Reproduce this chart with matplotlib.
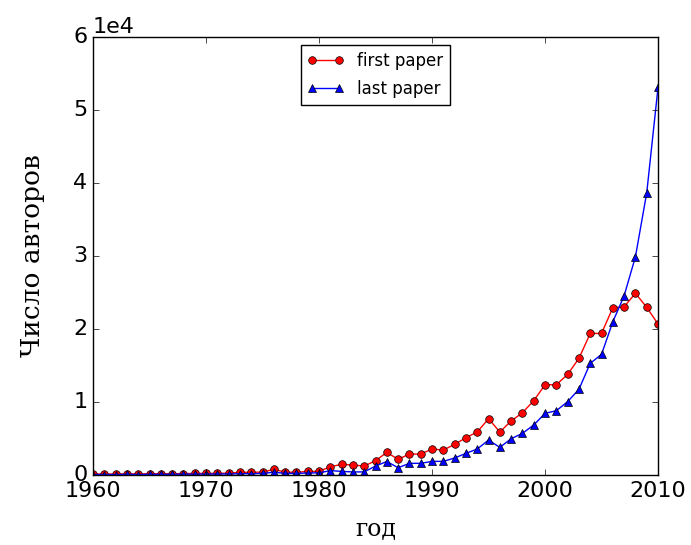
import matplotlib
matplotlib.use("Agg")
import matplotlib.pyplot as plt

# authors per year, by first and last paper
years = list(range(1960, 2011))
first_paper = [120, 140, 130, 160, 150, 170, 180, 170, 200, 210, 230, 220, 260,
               370, 370, 400, 780, 400, 370, 500, 500, 1140, 1460, 1370, 1230, 1960,
               3100, 2150, 2870, 2870, 3560, 3420, 4200, 5110, 5890, 7720, 5890,
               7400, 8540, 10180, 12370, 12370, 13790, 15980, 19400, 19400, 22920,
               23060, 24890, 22970, 20680]
last_paper = [60, 70, 60, 80, 70, 90, 90, 100, 110, 120, 130, 130, 150,
              180, 190, 220, 380, 230, 220, 280, 300, 600, 500, 420, 430, 1230,
              1850, 1000, 1600, 1600, 1870, 1870, 2330, 2970, 3560, 4790, 3790,
              4970, 5710, 6850, 8450, 8810, 10050, 11740, 15300, 16530, 21000,
              24560, 29900, 38670, 53110]
xticks = [1960, 1970, 1980, 1990, 2000, 2010]

plt.style.use("classic")
fig = plt.figure(figsize=(6.91, 5.45), dpi=100, facecolor="white")
ax = fig.add_axes([0.1346, 0.1284, 0.8177, 0.8036])

ax.plot(years, first_paper, "r-o", mec="k", ms=5.5, lw=1, label="first paper")
ax.plot(years, last_paper, "b-^", mec="k", ms=5.5, lw=1, label="last paper")

ax.set_xlim(1960, 2010)
ax.set_ylim(0, 60000)
ax.set_xticks(xticks)
ax.ticklabel_format(axis="x", useOffset=False, style="plain")
ax.ticklabel_format(axis="y", style="sci", scilimits=(0, 0))
ax.tick_params(labelsize=16)
ax.yaxis.get_offset_text().set_fontsize(16)

ax.set_xlabel("год", family="DejaVu Serif", fontsize=17, labelpad=12)
ax.set_ylabel("Число авторов", family="DejaVu Serif", fontsize=19, labelpad=20)

ax.legend(loc="upper center", fontsize=12, numpoints=2, handlelength=2.2,
          labelspacing=0.6)

fig.savefig("out.png", dpi=100, facecolor="white")
